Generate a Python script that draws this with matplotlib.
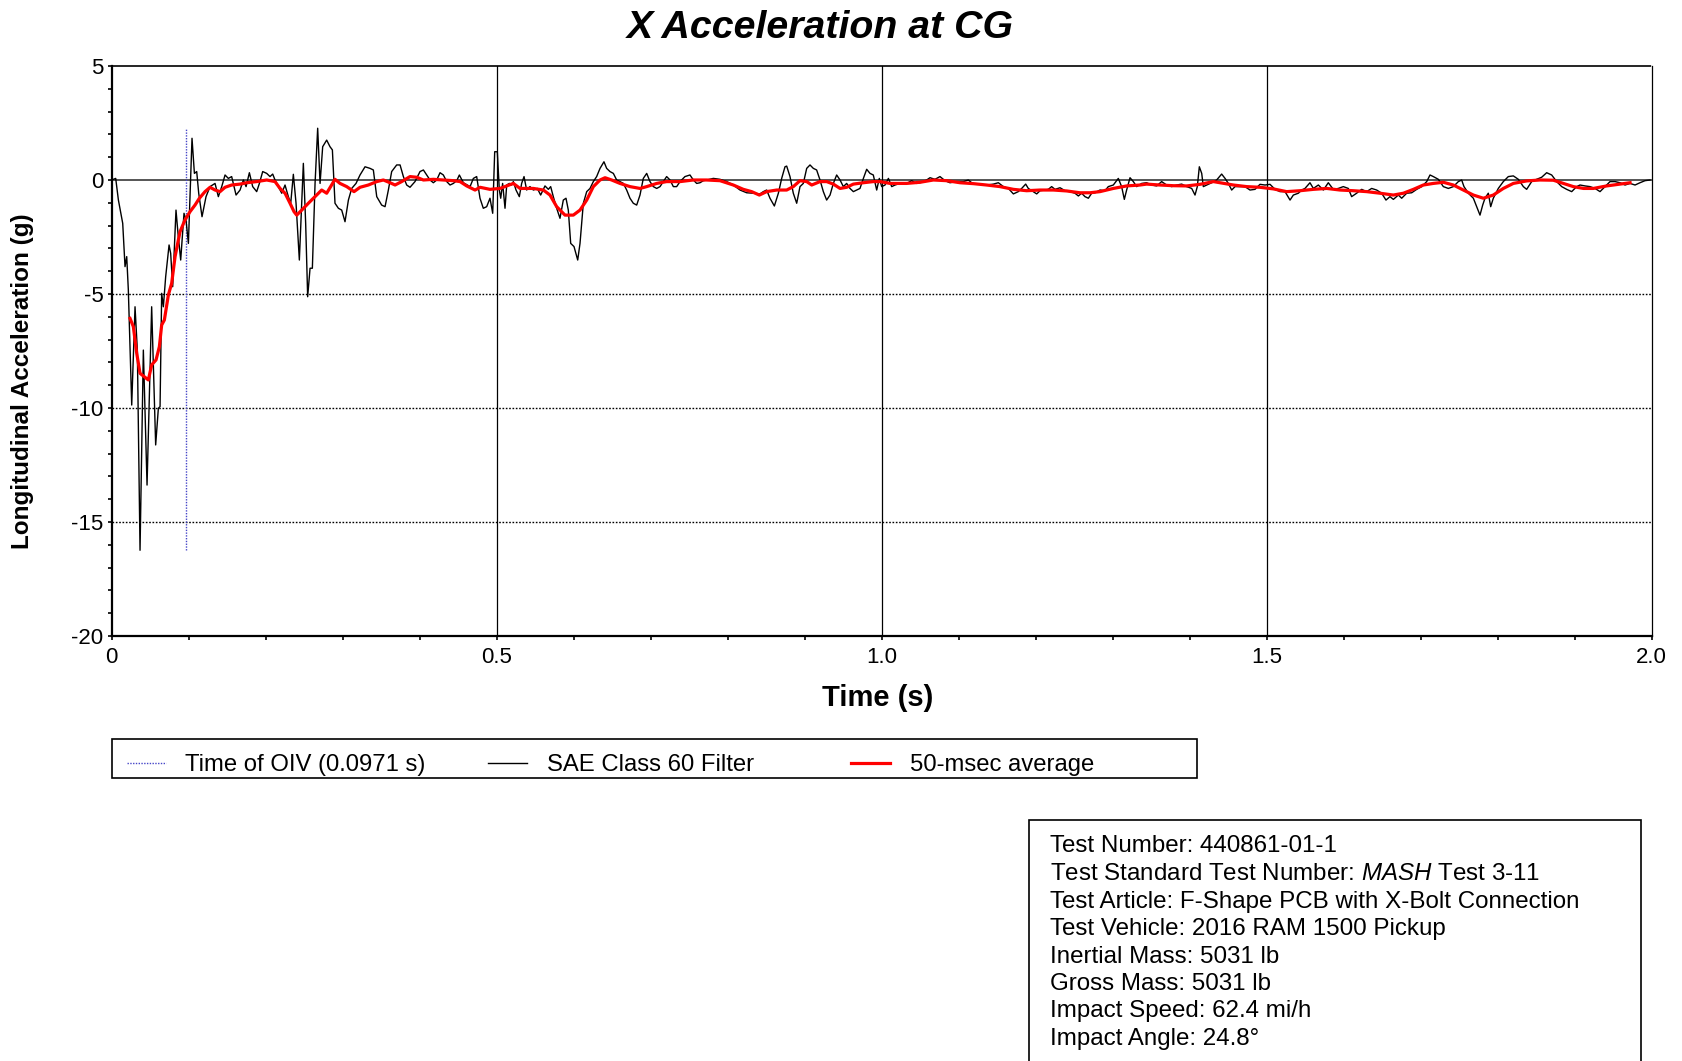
import matplotlib
matplotlib.use("Agg")
import matplotlib.pyplot as plt
from matplotlib.patches import Rectangle
from matplotlib.lines import Line2D
from matplotlib.ticker import MultipleLocator, FixedLocator

plt.rcParams['font.family'] = ['Liberation Sans', 'DejaVu Sans']
plt.rcParams['axes.unicode_minus'] = False
plt.rcParams['mathtext.fontset'] = 'custom'
plt.rcParams['mathtext.rm'] = 'Liberation Sans'
plt.rcParams['mathtext.it'] = 'Liberation Sans:italic'

# ---------------- data ----------------
title = "X Acceleration at CG"
x_label = "Time (s)"
y_label = "Longitudinal Acceleration (g)"
oiv_time = 0.0971
series_names = ["Time of OIV (0.0971 s)", "SAE Class 60 Filter", "50-msec average"]
x_ticks = [0, 0.5, 1.0, 1.5, 2.0]
x_tick_labels = ["0", "0.5", "1.0", "1.5", "2.0"]
y_ticks = [5, 0, -5, -10, -15, -20]
y_tick_labels = ["5", "0", "-5", "-10", "-15", "-20"]

# SAE Class 60 filtered signal
t_filt = [
    0.0000, 0.0052, 0.0087, 0.0143, 0.0173, 0.0195, 0.0216, 0.0260, 0.0303, 0.0333,
    0.0368, 0.0411, 0.0459, 0.0519, 0.0571, 0.0606, 0.0628, 0.0649, 0.0671, 0.0701,
    0.0745, 0.0766, 0.0792, 0.0835, 0.0861, 0.0896, 0.0939, 0.0965, 0.0996, 0.1043,
    0.1074, 0.1104, 0.1130, 0.1173, 0.1225, 0.1277, 0.1342, 0.1385, 0.1429, 0.1472,
    0.1515, 0.1558, 0.1615, 0.1667, 0.1710, 0.1745, 0.1788, 0.1831, 0.1883, 0.1918,
    0.1961, 0.2013, 0.2056, 0.2091, 0.2121, 0.2165, 0.2208, 0.2251, 0.2294, 0.2325,
    0.2359, 0.2394, 0.2437, 0.2489, 0.2519, 0.2545, 0.2576, 0.2606, 0.2641, 0.2675,
    0.2706, 0.2740, 0.2792, 0.2835, 0.2866, 0.2900, 0.2944, 0.2987, 0.3030, 0.3074,
    0.3117, 0.3173, 0.3225, 0.3290, 0.3355, 0.3398, 0.3442, 0.3506, 0.3550, 0.3593,
    0.3636, 0.3701, 0.3745, 0.3788, 0.3831, 0.3874, 0.3939, 0.4004, 0.4048, 0.4091,
    0.4134, 0.4177, 0.4221, 0.4264, 0.4307, 0.4351, 0.4394, 0.4437, 0.4481, 0.4515,
    0.4567, 0.4654, 0.4697, 0.4740,
    0.4783, 0.4826, 0.4870, 0.4913, 0.4948, 0.4974, 0.5008, 0.5034, 0.5052, 0.5077,
    0.5108, 0.5130, 0.5164, 0.5194, 0.5216, 0.5251, 0.5294, 0.5324, 0.5355, 0.5389,
    0.5432, 0.5476, 0.5528, 0.5571, 0.5627, 0.5671, 0.5701, 0.5735, 0.5779, 0.5822,
    0.5865, 0.5900, 0.5930, 0.5961, 0.6004, 0.6052, 0.6082, 0.6125, 0.6169, 0.6212,
    0.6255, 0.6298, 0.6342, 0.6393, 0.6428, 0.6471, 0.6515, 0.6558, 0.6601, 0.6645,
    0.6688, 0.6731, 0.6774, 0.6818, 0.6861, 0.6904, 0.6948, 0.6991, 0.7034, 0.7078,
    0.7121, 0.7164, 0.7207, 0.7251, 0.7294, 0.7337, 0.7381, 0.7445, 0.7510, 0.7554,
    0.7597, 0.7640, 0.7684, 0.7727, 0.7813, 0.7900, 0.7987, 0.8073, 0.8160, 0.8246,
    0.8333, 0.8420, 0.8463, 0.8506, 0.8549, 0.8606, 0.8658, 0.8701, 0.8744, 0.8766,
    0.8809, 0.8852, 0.8896, 0.8939, 0.8982, 0.9026, 0.9069, 0.9112, 0.9155, 0.9199,
    0.9242, 0.9285, 0.9329, 0.9372, 0.9415, 0.9459, 0.9502, 0.9545, 0.9588, 0.9632,
    0.9675, 0.9718, 0.9762, 0.9805, 0.9848, 0.9891, 0.9935, 0.9969, 1.0000, 1.0043,
    1.0087, 1.0130, 1.0173, 1.0238,
    1.0259, 1.0324, 1.0389, 1.0454, 1.0519, 1.0584, 1.0627, 1.0692, 1.0757, 1.0822,
    1.0887, 1.0974, 1.1060, 1.1125, 1.1190, 1.1277, 1.1363, 1.1450, 1.1515, 1.1580,
    1.1645, 1.1710, 1.1774, 1.1818, 1.1870, 1.1904, 1.1969, 1.2013, 1.2056, 1.2121,
    1.2164, 1.2207, 1.2251, 1.2316, 1.2381, 1.2445, 1.2510, 1.2554, 1.2597, 1.2640,
    1.2684, 1.2727, 1.2770, 1.2835, 1.2900, 1.2943, 1.3008, 1.3073, 1.3116, 1.3151,
    1.3181, 1.3225, 1.3268, 1.3311, 1.3376, 1.3441, 1.3506, 1.3571, 1.3636, 1.3701,
    1.3766, 1.3831, 1.3896, 1.3961, 1.4026, 1.4069, 1.4099, 1.4125, 1.4156, 1.4177,
    1.4221, 1.4285, 1.4350, 1.4415, 1.4459, 1.4502, 1.4545, 1.4589, 1.4654, 1.4718,
    1.4783, 1.4848, 1.4913, 1.4978, 1.5043, 1.5108, 1.5173,
    1.5238, 1.5303, 1.5346, 1.5411, 1.5454, 1.5497, 1.5562, 1.5606, 1.5671, 1.5736,
    1.5800, 1.5865, 1.5930, 1.5995, 1.6060, 1.6103, 1.6168, 1.6233, 1.6298, 1.6363,
    1.6428, 1.6493, 1.6549, 1.6601, 1.6645, 1.6710, 1.6753, 1.6818, 1.6883, 1.6948,
    1.7013, 1.7078, 1.7121, 1.7164, 1.7229, 1.7294, 1.7359, 1.7424, 1.7489, 1.7532,
    1.7562, 1.7619, 1.7684, 1.7727, 1.7770, 1.7805, 1.7835, 1.7878, 1.7909, 1.7943,
    1.8008, 1.8073, 1.8138, 1.8203, 1.8268, 1.8333, 1.8376, 1.8441, 1.8506, 1.8571,
    1.8636, 1.8701, 1.8766, 1.8831, 1.8896, 1.8961, 1.9026, 1.9069, 1.9134, 1.9199,
    1.9264, 1.9329, 1.9394, 1.9459, 1.9524, 1.9589, 1.9654, 1.9719, 1.9784, 1.9848,
    1.9913, 1.9978,
]
a_filt = [
    0.00, 0.07, -0.88, -1.90, -3.80, -3.36, -4.82, -9.87, -5.56, -7.46,
    -16.24, -7.46, -13.38, -5.56, -11.62, -10.01, -9.94, -4.97, -5.56, -4.24,
    -2.85, -3.22, -4.68, -1.32, -2.34, -3.51, -1.46, -1.75, -2.78, 1.83,
    0.29, 0.37, -0.58, -1.61, -0.73, -0.29, -0.15, -0.73, -0.29, 0.22,
    0.07, 0.15, -0.66, -0.44, 0.00, -0.29, 0.32, -0.29, -0.51, -0.15,
    0.37, 0.29, 0.15, 0.26, 0.00, -0.29, -0.58, -0.22, -0.73, -1.02,
    0.25, -1.02, -3.51, 0.73, -1.90, -5.12, -3.87, -3.87, -0.15, 2.27,
    -0.15, 1.46, 1.75, 1.46, 1.32, -1.02, -1.24, -1.32, -1.83, -0.88,
    -0.37, -0.15, 0.22, 0.58, 0.51, 0.44, -0.73, -1.10, -1.17, -0.44,
    0.37, 0.66, 0.66, 0.15, -0.22, -0.32, -0.07, 0.37, 0.44, 0.22,
    0.00, -0.12, 0.00, 0.32, 0.22, -0.07, -0.22, -0.15, -0.03, 0.22,
    -0.12, -0.29, 0.07, 0.15,
    -0.80, -1.24, -1.17, -0.80, -1.46, 1.24, 1.24, -0.44, -0.80, -0.15,
    -1.24, -0.22, -0.15, -0.22, -0.07, -0.44, -0.73, -0.15, 0.15, -0.44,
    -0.29, -0.44, -0.37, -0.66, -0.26, -0.41, -0.29, -0.73, -1.24, -1.68,
    -0.88, -0.80, -1.32, -2.78, -2.92, -3.51, -2.78, -1.02, -0.51, -0.37,
    -0.07, 0.15, 0.51, 0.80, 0.51, 0.37, 0.29, 0.00, -0.07, -0.15,
    -0.44, -0.80, -1.02, -1.10, -0.66, 0.07, 0.29, -0.07, -0.29, -0.37,
    -0.29, -0.07, 0.15, 0.00, -0.29, -0.29, -0.07, 0.15, 0.22, 0.00,
    -0.15, -0.12, -0.03, 0.00, 0.07, 0.03, -0.07, -0.22, -0.44, -0.56,
    -0.58, -0.61, -0.51, -0.44, -0.80, -1.14, -0.58, 0.07, 0.58, 0.61,
    0.15, -0.58, -1.02, -0.29, -0.15, 0.51, 0.66, 0.51, 0.44, 0.00,
    -0.51, -0.88, -0.66, -0.15, 0.22, 0.00, -0.29, -0.15, -0.37, -0.51,
    -0.44, -0.37, 0.07, 0.47, 0.29, 0.22, -0.44, 0.07, -0.29, -0.22,
    0.07, -0.29, -0.22, -0.15,
    -0.15, -0.15, -0.03, -0.15, -0.10, 0.00, 0.10, 0.03, 0.15, -0.03,
    -0.12, -0.07, -0.07, 0.00, -0.18, -0.19, -0.22, -0.18, -0.12, -0.29,
    -0.37, -0.61, -0.51, -0.37, -0.18, -0.37, -0.51, -0.61, -0.47, -0.44,
    -0.41, -0.29, -0.41, -0.34, -0.47, -0.51, -0.58, -0.70, -0.58, -0.73,
    -0.80, -0.58, -0.56, -0.44, -0.47, -0.29, -0.22, 0.07, -0.29, -0.85,
    -0.44, 0.10, -0.07, -0.29, -0.15, -0.12, -0.22, -0.26, -0.07, -0.22,
    -0.29, -0.22, -0.18, -0.29, -0.37, -0.66, -0.29, 0.58, 0.29, -0.29,
    -0.22, -0.12, 0.00, 0.26, 0.07, -0.15, -0.44, -0.29, -0.29, -0.29,
    -0.44, -0.41, -0.19, -0.22, -0.19, -0.41, -0.51,
    -0.51, -0.88, -0.66, -0.58, -0.44, -0.37, -0.12, -0.37, -0.22, -0.44,
    -0.12, -0.41, -0.37, -0.29, -0.37, -0.73, -0.58, -0.41, -0.51, -0.37,
    -0.44, -0.58, -0.88, -0.73, -0.85, -0.66, -0.80, -0.58, -0.56, -0.41,
    -0.29, -0.07, 0.22, 0.15, 0.03, -0.29, -0.37, -0.29, -0.07, 0.00,
    -0.29, -0.58, -0.80, -1.17, -1.54, -1.10, -0.80, -0.58, -1.17, -0.80,
    -0.37, -0.07, 0.15, 0.18, 0.03, -0.29, -0.41, -0.07, 0.03, 0.12,
    0.32, 0.22, -0.07, -0.29, -0.41, -0.51, -0.29, -0.22, -0.26, -0.29,
    -0.37, -0.51, -0.29, -0.07, -0.07, -0.12, -0.22, -0.15, -0.22, -0.12,
    -0.03, 0.00,
]

# 50-msec moving average
t_avg = [
    0.0238, 0.0281, 0.0325, 0.0368, 0.0424, 0.0476, 0.0519, 0.0576, 0.0619, 0.0649,
    0.0684, 0.0736, 0.0779, 0.0823, 0.0887, 0.0952, 0.1017, 0.1082, 0.1139, 0.1212,
    0.1277, 0.1342, 0.1407, 0.1472, 0.1558, 0.1667, 0.1753, 0.1883, 0.2013, 0.2121,
    0.2186, 0.2251, 0.2316, 0.2368, 0.2403, 0.2468, 0.2554, 0.2641, 0.2727, 0.2792,
    0.2900, 0.2965, 0.3052, 0.3147, 0.3225, 0.3333, 0.3442, 0.3528, 0.3615, 0.3680,
    0.3766, 0.3874, 0.3961, 0.4048, 0.4177, 0.4307, 0.4437, 0.4524, 0.4610, 0.4719,
    0.4784, 0.4913, 0.5043, 0.5216, 0.5303, 0.5476, 0.5606, 0.5692, 0.5779, 0.5887,
    0.5995, 0.6082, 0.6169, 0.6255, 0.6342, 0.6407, 0.6493, 0.6601, 0.6731, 0.6861,
    0.6948, 0.7078, 0.7207, 0.7381, 0.7554, 0.7727, 0.7900, 0.8073, 0.8203, 0.8311,
    0.8411, 0.8506, 0.8636, 0.8766, 0.8852, 0.8939, 0.9026, 0.9091, 0.9199, 0.9285,
    0.9372, 0.9459, 0.9545, 0.9632, 0.9762, 0.9891, 0.9978, 1.0108, 1.0324, 1.0497,
    1.0671, 1.0844, 1.1017, 1.1190, 1.1363, 1.1536, 1.1710, 1.1883, 1.2056, 1.2229,
    1.2402, 1.2575, 1.2705, 1.2835, 1.3008, 1.3181, 1.3355, 1.3441, 1.3614, 1.3788,
    1.3961, 1.4134, 1.4307, 1.4394, 1.4567, 1.4740, 1.4913, 1.5086, 1.5259, 1.5433,
    1.5606, 1.5779, 1.5952, 1.6125, 1.6298, 1.6472, 1.6645, 1.6775, 1.6905, 1.7034,
    1.7164, 1.7294, 1.7424, 1.7554, 1.7684, 1.7814, 1.7943, 1.8073, 1.8203, 1.8376,
    1.8549, 1.8723, 1.8852, 1.8982, 1.9113, 1.9242, 1.9415, 1.9589, 1.9719,
]
a_avg = [
    -6.07, -6.43, -7.60, -8.48, -8.63, -8.77, -8.11, -7.89, -7.31, -6.36,
    -6.14, -5.04, -4.53, -3.36, -2.27, -1.75, -1.39, -1.10, -0.80, -0.51,
    -0.32, -0.44, -0.51, -0.32, -0.22, -0.18, -0.12, -0.07, 0.00, -0.07,
    -0.37, -0.58, -1.02, -1.39, -1.54, -1.32, -1.02, -0.73, -0.44, -0.58,
    0.03, -0.15, -0.29, -0.51, -0.32, -0.22, -0.07, 0.00, -0.12, -0.22,
    -0.07, 0.15, 0.12, 0.00, 0.03, 0.00, -0.03, -0.07, -0.26, -0.44,
    -0.32, -0.41, -0.37, -0.15, -0.37, -0.37, -0.44, -0.66, -1.17, -1.54,
    -1.54, -1.32, -0.88, -0.29, 0.00, 0.10, 0.00, -0.15, -0.29, -0.37,
    -0.29, -0.15, -0.07, -0.07, 0.00, 0.00, -0.03, -0.22, -0.41, -0.51,
    -0.66, -0.51, -0.44, -0.44, -0.29, -0.03, -0.07, -0.22, -0.07, -0.07,
    -0.18, -0.37, -0.32, -0.18, -0.12, -0.07, -0.07, -0.15, -0.15, -0.10,
    0.00, -0.03, -0.12, -0.16, -0.22, -0.29, -0.41, -0.47, -0.44, -0.44,
    -0.48, -0.56, -0.56, -0.51, -0.37, -0.26, -0.22, -0.18, -0.22, -0.25,
    -0.26, -0.19, -0.07, -0.12, -0.22, -0.29, -0.32, -0.39, -0.51, -0.47,
    -0.41, -0.37, -0.44, -0.47, -0.51, -0.58, -0.66, -0.58, -0.41, -0.22,
    -0.15, -0.10, -0.22, -0.44, -0.66, -0.80, -0.66, -0.37, -0.15, -0.04,
    0.00, -0.01, -0.15, -0.29, -0.37, -0.37, -0.26, -0.18, -0.12,
]

info_lines = [
    "Test Number: 440861-01-1",
    "Test Standard Test Number: $\\mathit{MASH}$ Test 3-11",
    "Test Article: F-Shape PCB with X-Bolt Connection",
    "Test Vehicle: 2016 RAM 1500 Pickup",
    "Inertial Mass: 5031 lb",
    "Gross Mass: 5031 lb",
    "Impact Speed: 62.4 mi/h",
    "Impact Angle: 24.8\u00b0",
]

# ---------------- figure ----------------
W, H = 1682, 1061
fig = plt.figure(figsize=(W / 100, H / 100), dpi=100)
fig.patch.set_facecolor("white")

def fx(px):
    return px / W

def fy(py):
    return 1 - py / H

ax = fig.add_axes([fx(111.7), fy(636), fx(1651.7) - fx(111.7), fy(66) - fy(636)])
ax.set_xlim(0, 2.0)
ax.set_ylim(-20, 5)

# grid / reference lines
for yv in y_ticks:
    if yv in (5, -20):
        continue
    if yv == 0:
        ax.axhline(yv, color="#555555", lw=1.4, zorder=1)
    else:
        ax.axhline(yv, color="black", lw=1.0, ls=(0, (1.2, 1.2)), zorder=1)
for xv in x_ticks[1:-1]:
    ax.axvline(xv, color="black", lw=0.9, zorder=1)

oiv_line = ax.vlines(oiv_time, min(a_filt), max(a_filt), colors="#4646c8",
                     linestyles=(0, (1, 1)), lw=1.0, zorder=2)
filt_line, = ax.plot(t_filt, a_filt, color="black", lw=1.0, zorder=3)
avg_line, = ax.plot(t_avg, a_avg, color="#ff0000", lw=2.3, zorder=4)

# spines
ax.spines["left"].set_linewidth(1.6)
ax.spines["bottom"].set_linewidth(1.6)
ax.spines["right"].set_linewidth(0.9)
ax.spines["top"].set_linewidth(1.2)
ax.spines["top"].set_linestyle((0, (1, 1)))

ax.xaxis.set_major_locator(FixedLocator(x_ticks))
ax.set_xticklabels(x_tick_labels)
ax.xaxis.set_minor_locator(MultipleLocator(0.1))
ax.yaxis.set_major_locator(FixedLocator(y_ticks))
ax.set_yticklabels(y_tick_labels)
ax.yaxis.set_minor_locator(MultipleLocator(1))
ax.tick_params(axis="both", which="both", direction="out", length=3, width=1.2,
               labelsize=16, colors="black")
ax.tick_params(axis="y", pad=3)
ax.tick_params(axis="x", pad=5)

# titles / labels
fig.text(fx(820), fy(27.5), title, ha="center", va="center", fontsize=28.3,
         fontweight="bold", fontstyle="italic")
fig.text(fx(877.5), fy(698), x_label, ha="center", va="center", fontsize=21,
         fontweight="bold")
fig.text(fx(23), fy(381), y_label, ha="center", va="center", fontsize=17.5,
         fontweight="bold", rotation=90)

# legend (three columns inside one framed box)
leg_handles = [
    Line2D([], [], color="#4646c8", lw=1.0, ls=(0, (1, 1))),
    Line2D([], [], color="black", lw=1.0),
    Line2D([], [], color="#ff0000", lw=2.3),
]
leg_x = [126.6, 488.0, 851.0]
for h, name, xp in zip(leg_handles, series_names, leg_x):
    fig.legend([h], [name], loc="center left", bbox_to_anchor=(fx(xp), fy(765)),
               frameon=False, fontsize=17.2, handlelength=1.65, handletextpad=0.8,
               borderpad=0, borderaxespad=0)
fig.patches.append(Rectangle((fx(111.5), fy(778)), fx(1197) - fx(111.5), fy(739) - fy(778),
                             transform=fig.transFigure, fill=False, ec="black", lw=1.2))

# info box
fig.patches.append(Rectangle((fx(1029), fy(1064)), fx(1641) - fx(1029), fy(819.5) - fy(1064),
                             transform=fig.transFigure, fill=False, ec="black", lw=1.2))
info_y = [846, 874, 902, 929, 957, 983.5, 1011, 1039]
for line, yp in zip(info_lines, info_y):
    fig.text(fx(1050), fy(yp), line, ha="left", va="center", fontsize=17.4)

fig.savefig("out.png", dpi=100)
